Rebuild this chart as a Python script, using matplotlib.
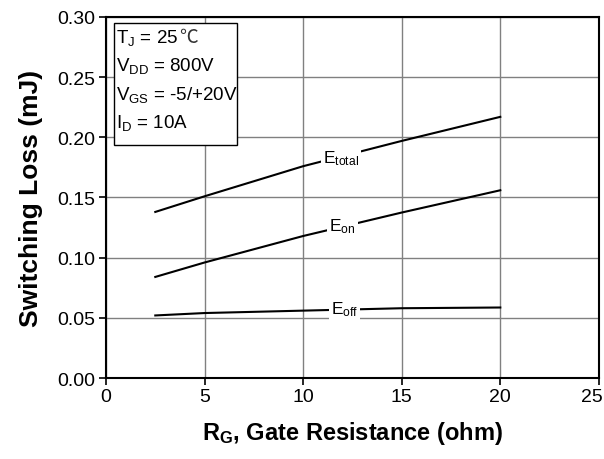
import numpy as np
import matplotlib.pyplot as plt
import matplotlib.transforms as mtransforms
from matplotlib.patches import Rectangle

plt.rcParams['font.family'] = ['Liberation Sans', 'DejaVu Sans']
plt.rcParams['mathtext.fontset'] = 'custom'
plt.rcParams['mathtext.rm'] = 'Liberation Sans'
plt.rcParams['mathtext.it'] = 'Liberation Sans:italic'
plt.rcParams['mathtext.bf'] = 'Liberation Sans:bold'

# Datos
rg = [2.5, 5, 10, 15, 20]  # ohm
e_total = [0.138, 0.151, 0.176, 0.197, 0.217]  # mJ
e_on = [0.084, 0.096, 0.118, 0.1375, 0.156]
e_off = [0.052, 0.054, 0.056, 0.058, 0.0586]

curvas = [
    (e_total, r'E$_\mathrm{total}$', 11.9, 0.1833),
    (e_on, r'E$_\mathrm{on}$', 12.0, 0.1267),
    (e_off, r'E$_\mathrm{off}$', 12.1, 0.0575),
]

condiciones = [r'T$_\mathrm{J}$ = 25', r'V$_\mathrm{DD}$ = 800V',
               r'V$_\mathrm{GS}$ = -5/+20V', r'I$_\mathrm{D}$ = 10A']

fig = plt.figure(figsize=(6.04, 4.6), dpi=100)
ax = fig.add_axes([0.1755, 0.176, 0.816, 0.785])

for y, etiqueta, xt, yt in curvas:
    ax.plot(rg, y, color='black', linewidth=1.5, zorder=3)
    ax.text(xt, yt, etiqueta, fontsize=12.5, ha='center', va='center', zorder=4,
            bbox=dict(facecolor='white', edgecolor='none', pad=1.5))

ax.set_xlim(0, 25)
ax.set_ylim(0, 0.30)
ax.set_xticks(np.arange(0, 26, 5))
ax.set_yticks(np.arange(0, 0.31, 0.05))
ax.set_yticklabels([f'{v:.2f}' for v in np.arange(0, 0.31, 0.05)])
ax.grid(True, color='#808080', linewidth=1.0)
ax.set_axisbelow(True)
ax.tick_params(direction='out', length=5, width=1.2, labelsize=14)
ax.tick_params(axis='x', pad=2)
ax.tick_params(axis='y', pad=3)
for s in ax.spines.values():
    s.set_linewidth(1.5)

# el "25" queda pegado al borde derecho
ultimo = ax.get_xticklabels()[-1]
ultimo.set_horizontalalignment('right')
ultimo.set_transform(ultimo.get_transform() +
                     mtransforms.ScaledTranslation(4 / 100, 0, fig.dpi_scale_trans))

ax.set_xlabel(r'R$_\mathbf{G}$, Gate Resistance (ohm)', fontsize=17,
              fontweight='bold', labelpad=10)
ax.set_ylabel('Switching Loss (mJ)', fontsize=19, fontweight='bold', labelpad=10)

# Cuadro de condiciones
ax.add_patch(Rectangle((0.016, 0.645), 0.249, 0.338, transform=ax.transAxes,
                       facecolor='white', edgecolor='black', linewidth=1.0, zorder=5))
textos = []
for i, txt in enumerate(condiciones):
    t = ax.text(0.02, 0.931 - i * 0.079, txt, transform=ax.transAxes, fontsize=13.5,
                va='baseline', ha='left', zorder=6)
    textos.append(t)

# simbolo de grados despues de "25" (mathtext no tiene el glifo)
fig.canvas.draw()
bb = textos[0].get_window_extent(fig.canvas.get_renderer())
x_grado = ax.transAxes.inverted().transform((bb.x1, 0))[0]
ax.text(x_grado + 0.002, 0.931, '℃', transform=ax.transAxes, fontsize=13.5,
        family=['Noto Sans CJK SC', 'DejaVu Sans'], color='#333333',
        va='baseline', ha='left', zorder=6)

plt.savefig('out.png', dpi=100)
